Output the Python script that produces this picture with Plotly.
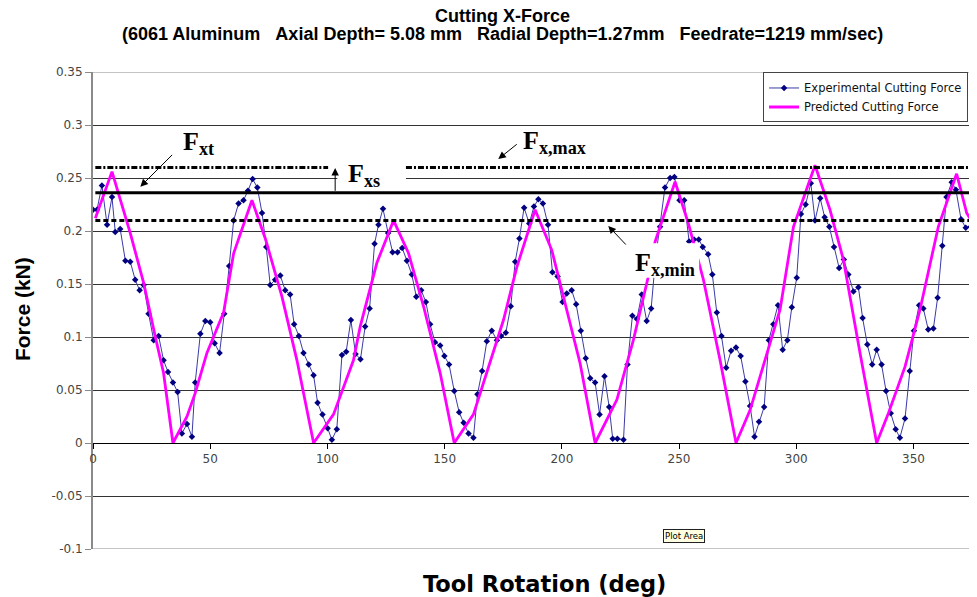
import plotly.graph_objects as go

# ---------------- data ----------------
exp_deg = [0.0, 1.7, 3.8, 6.0, 8.1, 9.5, 11.6, 13.8, 15.9, 18.0, 19.9, 21.6, 23.7, 25.9, 28.0, 30.1, 32.0, 34.1,
           36.1, 37.9, 40.1, 42.2, 43.6, 45.8, 47.9, 50.0, 51.9, 54.0, 56.0, 58.1, 60.0, 62.1, 64.2, 66.1, 68.1,
           70.1, 72.1, 73.9, 75.6, 77.7, 79.9, 82.0, 84.1, 85.8, 87.8, 89.8, 92.0, 94.1, 95.8, 97.9, 100.1, 101.9,
           104.0, 106.2, 108.0, 110.0, 112.0, 114.1, 116.1, 118.0, 120.1, 121.8, 123.7, 125.9, 127.8, 129.9, 131.9,
           133.9, 136.0, 137.9, 140.0, 142.0, 143.8, 145.9, 148.1, 149.9, 151.9, 154.1, 156.2, 158.1, 160.2, 162.3,
           164.0, 166.0, 168.0, 170.1, 172.3, 174.1, 176.1, 178.2, 180.1, 181.9, 183.9, 186.1, 188.1, 190.0, 191.9,
           194.1, 196.0, 198.2, 200.3, 202.1, 204.2, 206.1, 208.1, 210.2, 212.1, 214.2, 216.1, 218.2, 220.2, 221.7,
           223.7, 226.3, 228.0, 230.1, 232.0, 234.1, 236.2, 238.1, 240.0, 241.9, 244.0, 246.2, 248.0, 250.2, 252.2,
           254.3, 256.4, 258.4, 260.1, 262.4, 264.2, 266.1, 268.1, 270.1, 272.2, 274.3, 276.3, 278.3, 280.3, 282.2,
           284.1, 286.3, 288.3, 290.2, 292.2, 294.2, 296.2, 298.1, 300.2, 302.0, 304.0, 306.2, 308.0, 310.2, 312.1,
           314.1, 316.1, 318.3, 320.3, 322.2, 324.4, 326.5, 328.3, 330.3, 332.4, 334.3, 336.4, 338.3, 340.3, 342.4,
           344.2, 346.4, 348.4, 350.2, 352.4, 354.2, 356.3, 358.5, 360.3, 362.3, 364.1, 366.3, 368.1, 370.3, 372.3,
           374.4, 376.3]
exp_force = [0.220, 0.220, 0.243, 0.206, 0.232, 0.199, 0.202, 0.172, 0.171, 0.154, 0.144, 0.149, 0.122, 0.097, 0.101,
             0.078, 0.067, 0.057, 0.048, 0.009, 0.018, 0.006, 0.057, 0.103, 0.115, 0.114, 0.094, 0.085, 0.122, 0.167,
             0.210, 0.226, 0.229, 0.238, 0.249, 0.241, 0.217, 0.185, 0.149, 0.154, 0.158, 0.144, 0.140, 0.112, 0.101,
             0.085, 0.074, 0.064, 0.038, 0.027, 0.014, 0.003, 0.013, 0.083, 0.086, 0.116, 0.084, 0.079, 0.110, 0.127,
             0.188, 0.206, 0.221, 0.198, 0.180, 0.180, 0.184, 0.172, 0.159, 0.138, 0.144, 0.133, 0.112, 0.095, 0.092,
             0.082, 0.074, 0.049, 0.029, 0.019, 0.009, 0.005, 0.046, 0.068, 0.096, 0.106, 0.097, 0.101, 0.104, 0.129,
             0.171, 0.193, 0.222, 0.207, 0.223, 0.230, 0.226, 0.206, 0.161, 0.157, 0.133, 0.141, 0.144, 0.131, 0.106,
             0.080, 0.061, 0.057, 0.027, 0.063, 0.034, 0.004, 0.004, 0.003, 0.074, 0.120, 0.117, 0.140, 0.115, 0.127,
             0.175, 0.204, 0.241, 0.250, 0.251, 0.229, 0.229, 0.190, 0.192, 0.192, 0.185, 0.178, 0.159, 0.123, 0.101,
             0.071, 0.087, 0.090, 0.082, 0.058, 0.035, 0.006, 0.020, 0.034, 0.097, 0.112, 0.130, 0.088, 0.097, 0.128,
             0.156, 0.216, 0.225, 0.245, 0.210, 0.231, 0.213, 0.204, 0.185, 0.165, 0.173, 0.159, 0.143, 0.147, 0.118,
             0.093, 0.074, 0.088, 0.074, 0.049, 0.028, 0.013, 0.005, 0.023, 0.068, 0.106, 0.130, 0.127, 0.107, 0.108,
             0.137, 0.186, 0.232, 0.246, 0.239, 0.211, 0.203, 0.204, 0.192]

pred_deg = [1.0, 8.1, 15.9, 21.6, 26.6, 30.1, 34.1, 40.1, 43.6, 48.6, 55.7, 60.0, 67.8, 73.5, 80.6, 87.0, 94.1,
            102.6, 111.1, 114.0, 121.1, 128.2, 134.6, 141.0, 148.1, 154.1, 162.3, 168.0, 175.1, 180.8, 188.6,
            195.7, 200.7, 207.8, 214.2, 223.5, 230.5, 236.9, 239.8, 248.3, 254.0, 260.4, 267.5, 274.3, 280.3,
            287.4, 293.1, 298.8, 308.0, 314.4, 320.1, 327.2, 334.3, 339.3, 346.4, 352.8, 360.6, 368.4, 372.7, 377.0]
pred_force = [0.212, 0.256, 0.198, 0.151, 0.100, 0.066, 0.0, 0.025, 0.047, 0.085, 0.123, 0.179, 0.229, 0.193, 0.138,
              0.078, 0.0, 0.027, 0.078, 0.110, 0.170, 0.210, 0.179, 0.129, 0.066, 0.0, 0.027, 0.066, 0.116, 0.166,
              0.220, 0.182, 0.138, 0.075, 0.0, 0.041, 0.097, 0.157, 0.190, 0.2465, 0.207, 0.154, 0.078, 0.0, 0.031,
              0.085, 0.126, 0.204, 0.262, 0.220, 0.173, 0.085, 0.0, 0.028, 0.072, 0.126, 0.204, 0.254, 0.217, 0.201]

x_ticks = [0, 50, 100, 150, 200, 250, 300, 350]
y_ticks = [-0.1, -0.05, 0, 0.05, 0.1, 0.15, 0.2, 0.25, 0.3, 0.35]
y_ticktext = ["-0.1", "-0.05", "0", "0.05", "0.1", "0.15", "0.2", "0.25", "0.3", "0.35"]

# reference levels (kN)
f_xt = 0.236
f_xmax = 0.26
f_xmin = 0.21

X_MAX = 377.1
Y_MIN, Y_MAX = -0.1, 0.35

# ---------------- figure ----------------
fig = go.Figure()
fig.add_trace(go.Scatter(
    x=exp_deg, y=exp_force, mode="lines+markers", name="Experimental Cutting Force",
    line=dict(color="#3a3aa8", width=1),
    marker=dict(symbol="diamond", size=5, color="#000080"),
))
fig.add_trace(go.Scatter(
    x=pred_deg, y=pred_force, mode="lines", name="Predicted Cutting Force",
    line=dict(color="#ff00ff", width=2.8),
))

shapes = []
# border lines at top / bottom of plot area
shapes.append(dict(type="line", xref="x", yref="y", x0=0, x1=X_MAX, y0=Y_MAX, y1=Y_MAX,
                   line=dict(color="#8a8a8a", width=1), layer="below"))
shapes.append(dict(type="line", xref="x", yref="y", x0=0, x1=X_MAX, y0=Y_MIN, y1=Y_MIN,
                   line=dict(color="#8a8a8a", width=1), layer="below"))
# white label boxes (text boxes in original chart)
shapes.append(dict(type="rect", xref="x", yref="y", x0=104.2, x1=133.5, y0=0.2396, y1=0.2686,
                   fillcolor="white", line=dict(width=0), layer="above"))
shapes.append(dict(type="rect", xref="x", yref="y", x0=228.4, x1=258.6, y0=0.156, y1=0.1885,
                   fillcolor="white", line=dict(width=0), layer="above"))
# reference lines
shapes.append(dict(type="line", xref="x", yref="y", x0=1.0, x1=X_MAX, y0=f_xt, y1=f_xt,
                   line=dict(color="black", width=3), layer="above"))
shapes.append(dict(type="line", xref="x", yref="y", x0=1.0, x1=100.3, y0=f_xmax, y1=f_xmax,
                   line=dict(color="black", width=3, dash="6px,2px,2px,2px"), layer="above"))
shapes.append(dict(type="line", xref="x", yref="y", x0=133.5, x1=X_MAX, y0=f_xmax, y1=f_xmax,
                   line=dict(color="black", width=3, dash="6px,2px,2px,2px"), layer="above"))
shapes.append(dict(type="line", xref="x", yref="y", x0=1.0, x1=X_MAX, y0=f_xmin, y1=f_xmin,
                   line=dict(color="black", width=3, dash="5px,3px"), layer="above"))

annotations = []
# arrows
for (hx, hy, tx, ty) in [(20.2, 0.2418, 34.4, 0.2732),
                         (103.3, 0.2595, 103.3, 0.2365),
                         (172.9, 0.2679, 181.4, 0.2829),
                         (219.8, 0.2047, 227.9, 0.1858)]:
    annotations.append(dict(x=hx, y=hy, ax=tx, ay=ty, xref="x", yref="y", axref="x", ayref="y",
                            text="", showarrow=True, arrowhead=2, arrowsize=1.5, arrowwidth=1,
                            arrowcolor="black", standoff=0, startstandoff=0))
lab_font = dict(family="Liberation Serif, Times New Roman, serif", size=26, color="black")
for (tx, ty, txt) in [(45.0, 0.283, "<b>F<sub>xt</sub></b>"),
                      (115.5, 0.2528, "<b>F<sub>xs</sub></b>"),
                      (196.7, 0.2839, "<b>F<sub>x,max</sub></b>"),
                      (244.1, 0.169, "<b>F<sub>x,min</sub></b>")]:
    annotations.append(dict(x=tx, y=ty, xref="x", yref="y", text=txt, showarrow=False,
                            font=lab_font, xanchor="center", yanchor="middle"))

# titles
annotations.append(dict(x=0.4638, y=1.1175, xref="paper", yref="paper", showarrow=False,
                        text="<b>Cutting X-Force</b>", xanchor="center", yanchor="middle",
                        font=dict(family="Liberation Sans, Arial", size=18, color="black")))
sp = "\u00a0\u00a0\u00a0"
annotations.append(dict(x=0.4638, y=1.0800, xref="paper", yref="paper", showarrow=False,
                        text="<b>(6061 Aluminum" + sp + "Axial Depth= 5.08 mm" + sp + "Radial Depth=1.27mm" + sp +
                             "Feedrate=1219 mm/sec)</b>", xanchor="center", yanchor="middle",
                        font=dict(family="Liberation Sans, Arial", size=18, color="black")))
annotations.append(dict(x=0.5102, y=-0.074, xref="paper", yref="paper", showarrow=False,
                        text="<b>Tool Rotation (deg)</b>", xanchor="center", yanchor="middle",
                        font=dict(family="DejaVu Sans", size=22.5, color="black")))
annotations.append(dict(x=-0.0803, y=0.503, xref="paper", yref="paper", showarrow=False,
                        text="<b>Force (kN)</b>", textangle=-90, xanchor="center", yanchor="middle",
                        font=dict(family="Liberation Sans, Arial", size=21, color="black")))
# "Plot Area" tooltip
annotations.append(dict(x=252.2, y=-0.0873, xref="x", yref="y", showarrow=False, text="Plot Area",
                        bgcolor="#ffffe1", bordercolor="#222", borderwidth=1, borderpad=1,
                        font=dict(family="DejaVu Sans", size=8.5, color="black")))

# page has an 8px body margin, so the figure is sized/placed to compensate
fig.update_layout(
    width=969, height=589,
    margin=dict(l=85, r=0, t=64, b=48, pad=0),
    paper_bgcolor="white", plot_bgcolor="white",
    showlegend=True,
    legend=dict(x=0.758, y=0.999, xanchor="left", yanchor="top",
                bgcolor="white", bordercolor="#444", borderwidth=1,
                font=dict(family="DejaVu Sans", size=11.5, color="#111"),
                itemwidth=30, tracegroupgap=0),
    shapes=shapes, annotations=annotations,
    xaxis=dict(range=[0, X_MAX], tickvals=x_ticks, ticktext=[str(v) for v in x_ticks],
               showgrid=False, zeroline=False, showline=True, linecolor="black", linewidth=1,
               ticks="outside", ticklen=5, tickcolor="black",
               anchor="free", position=(0 - Y_MIN) / (Y_MAX - Y_MIN),
               tickfont=dict(family="DejaVu Sans", size=12, color="#444")),
    yaxis=dict(range=[Y_MIN, Y_MAX], tickvals=y_ticks, ticktext=y_ticktext,
               showgrid=True, gridcolor="#333333", gridwidth=1, zeroline=False,
               showline=True, linecolor="#8a8a8a", linewidth=2,
               ticks="outside", ticklen=6, tickcolor="#8a8a8a",
               tickfont=dict(family="DejaVu Sans", size=12, color="#444")),
)

fig.write_html("out.html")
